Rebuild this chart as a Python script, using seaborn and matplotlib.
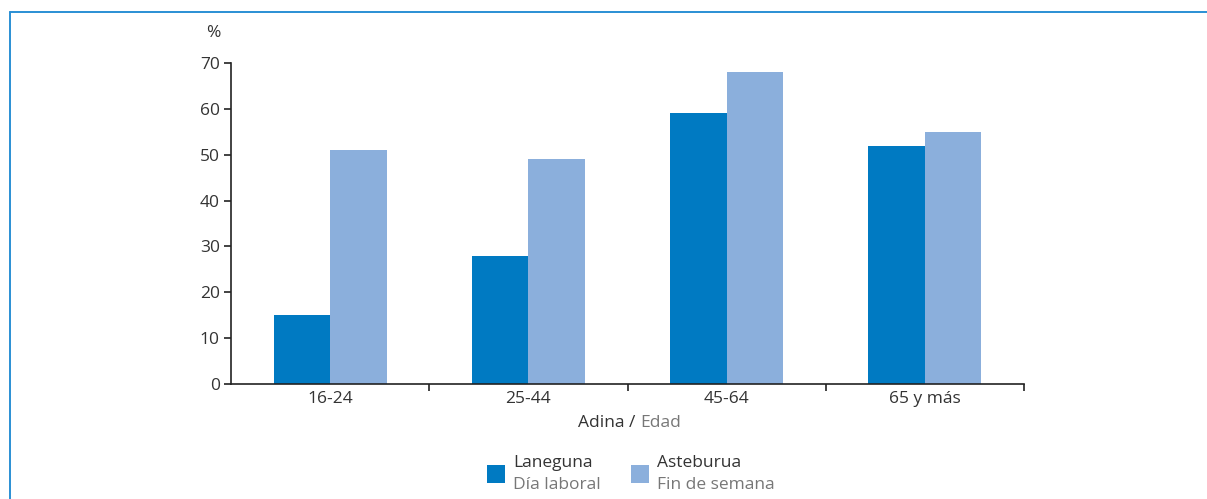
import matplotlib
matplotlib.use("Agg")
import matplotlib.pyplot as plt
from matplotlib.lines import Line2D
from matplotlib.patches import Rectangle
import seaborn as sns
import pandas as pd

categories = ["16-24", "25-44", "45-64", "65 y más"]
laneguna = [15, 28, 59, 52]      # Día laboral
asteburua = [51, 49, 68, 55]     # Fin de semana
series_names = ["Laneguna", "Asteburua"]
series_sub = ["Día laboral", "Fin de semana"]
yticks = [0, 10, 20, 30, 40, 50, 60, 70]

dark = "#007AC2"
light = "#8BAFDC"
txt = "#333333"
grey = "#777777"
frame = "#2A8FD4"

sns.set_theme(style="white")
plt.rcParams['font.family'] = ['Open Sans', 'DejaVu Sans']

df = pd.DataFrame({
    "Edad": categories * 2,
    "valor": laneguna + asteburua,
    "serie": [series_names[0]] * 4 + [series_names[1]] * 4,
})

fig = plt.figure(figsize=(12.07, 4.99), dpi=100)
ax = fig.add_axes([231/1207, 1 - 384/499, (1024-231)/1207, (384-63)/499])
sns.barplot(data=df, x="Edad", y="valor", hue="serie", palette=[dark, light],
            width=0.57, saturation=1, legend=False, ax=ax, linewidth=0)

ax.set_xlim(-0.5, 3.5)
ax.set_ylim(0, 70)
ax.set_yticks(yticks)
ax.set_yticklabels([str(v) for v in yticks])
ax.set_xticks(range(4))
ax.set_xticklabels(categories)
ax.set_xticks([0.5, 1.5, 2.5, 3.5], minor=True)
ax.tick_params(axis="x", which="major", length=0, pad=5, labelsize=12.5, labelcolor=txt)
ax.tick_params(axis="x", which="minor", length=5, width=1.2, color="#222222", direction="out", bottom=True)
ax.tick_params(axis="y", length=5, width=1.2, color="#222222", direction="out", left=True,
               labelsize=12.5, labelcolor=txt, pad=3)
ax.set_xlabel("")
ax.set_ylabel("")
for s in ["top", "right"]:
    ax.spines[s].set_visible(False)
for s in ["left", "bottom"]:
    ax.spines[s].set_color("#222222")
    ax.spines[s].set_linewidth(1.2)

W, H = 1207, 499

# unit label
fig.text(213/W, 1 - 33/H, "%", ha="center", va="center", fontsize=12.5, color=txt)

# x-axis title with two colours
fig.text(640/W, 1 - 423/H, "Adina / ", ha="right", va="center", fontsize=12.5, color=txt)
fig.text(640/W, 1 - 423/H, "Edad", ha="left", va="center", fontsize=12.5, color=grey)

# legend
for x0, col, name, sub in [(487, dark, series_names[0], series_sub[0]),
                           (631, light, series_names[1], series_sub[1])]:
    fig.patches.append(Rectangle((x0/W, 1 - 483/H), 18/W, 18/H, transform=fig.transFigure,
                                 facecolor=col, edgecolor="none"))
    fig.text((x0 + 26)/W, 1 - 463/H, name, ha="left", va="center", fontsize=12.5, color=txt)
    fig.text((x0 + 26)/W, 1 - 485/H, sub, ha="left", va="center", fontsize=12.5, color=grey)

# frame lines
fig.add_artist(Line2D([10/W, 1], [1 - 12/H, 1 - 12/H], transform=fig.transFigure,
                      color=frame, linewidth=1.4))
fig.add_artist(Line2D([10/W, 10/W], [0, 1 - 12/H], transform=fig.transFigure,
                      color=frame, linewidth=1.4))

fig.savefig("out.png", dpi=100)
